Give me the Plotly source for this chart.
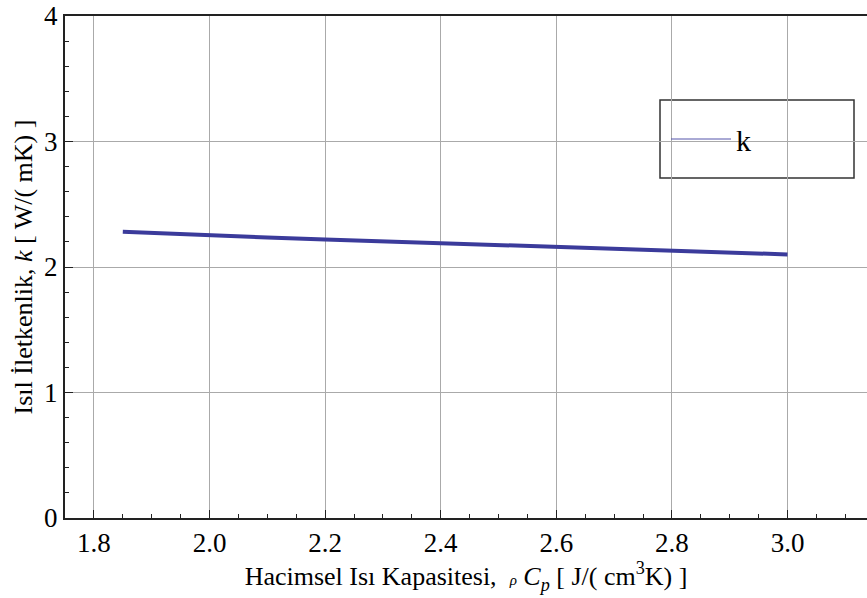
import plotly.graph_objects as go

# Data
cp_values = [1.85, 1.9, 2.0, 2.1, 2.2, 2.3, 2.4, 2.5, 2.6, 2.7, 2.8, 2.9, 3.0]
k_values = [2.28, 2.27, 2.25, 2.235, 2.22, 2.205, 2.19, 2.175, 2.16, 2.145, 2.13, 2.115, 2.10]
x_ticks = [1.8, 2.0, 2.2, 2.4, 2.6, 2.8, 3.0]
x_tick_labels = ["1.8", "2.0", "2.2", "2.4", "2.6", "2.8", "3.0"]
y_ticks = [0, 1, 2, 3, 4]
y_tick_labels = ["0", "1", "2", "3", "4"]
series_name = "k"

LINE_COLOR = "#3b3b9b"
FONT = "Liberation Serif"


def serif(label):
    return "<span style='font-family:Liberation Serif'>" + label + "</span>"


fig = go.Figure()
fig.add_trace(go.Scatter(x=cp_values, y=k_values, mode="lines",
                         line=dict(color=LINE_COLOR, width=4),
                         name=series_name, showlegend=False))
# legend entry (thin line, as in reference)
fig.add_trace(go.Scatter(x=[None], y=[None], mode="lines",
                         line=dict(color="#5555aa", width=1),
                         name=series_name, showlegend=True))

fig.update_layout(
    template="none",
    width=867, height=598,
    margin=dict(l=65, r=0, t=16, b=80),
    paper_bgcolor="white", plot_bgcolor="white",
    font=dict(family=FONT, size=26, color="black"),
    legend=dict(x=(666 - 65) / 802, y=(518 - 139) / 502, xanchor="left", yanchor="middle",
                bgcolor="rgba(0,0,0,0)", borderwidth=0,
                font=dict(family=FONT, size=30), itemwidth=60),
    shapes=[dict(type="rect", xref="paper", yref="paper",
                 x0=(660 - 65) / 802, x1=(854 - 65) / 802,
                 y0=(518 - 178) / 502, y1=(518 - 100) / 502,
                 line=dict(color="#333333", width=1.5), fillcolor="white", layer="below")],
)

fig.update_xaxes(
    range=[1.75, 1.75 + 802 / 578.0],
    tickmode="array", tickvals=x_ticks, ticktext=[serif(t) for t in x_tick_labels],
    showgrid=True, gridcolor="#aaaaaa", gridwidth=1,
    showline=True, linecolor="#222222", linewidth=2, mirror=True,
    ticks="inside", ticklen=8, tickcolor="#222222",
    minor=dict(dtick=0.05, ticks="inside", ticklen=4, tickcolor="#222222", showgrid=False),
    zeroline=False, tickfont=dict(family=FONT, size=27, color="black"),
    title=dict(text="Hacimsel Isı Kapasitesi,  <i><span style='font-size:15px'>ρ</span> C<sub>p</sub></i> [ J/( cm<sup>3</sup>K) ]",
               font=dict(family=FONT, size=26), standoff=6),
)
fig.update_yaxes(
    range=[0, 4],
    tickmode="array", tickvals=y_ticks, ticktext=[serif(t) for t in y_tick_labels],
    showgrid=True, gridcolor="#aaaaaa", gridwidth=1,
    showline=True, linecolor="#222222", linewidth=2,
    ticks="inside", ticklen=8, tickcolor="#222222",
    minor=dict(dtick=0.2, ticks="inside", ticklen=4, tickcolor="#222222", showgrid=False),
    zeroline=False, tickfont=dict(family=FONT, size=27, color="black"),
    title=dict(text="Isıl İletkenlik, <i>k</i> [ W/( mK) ]", font=dict(family=FONT, size=26), standoff=4),
)

fig.write_html("out.html")
